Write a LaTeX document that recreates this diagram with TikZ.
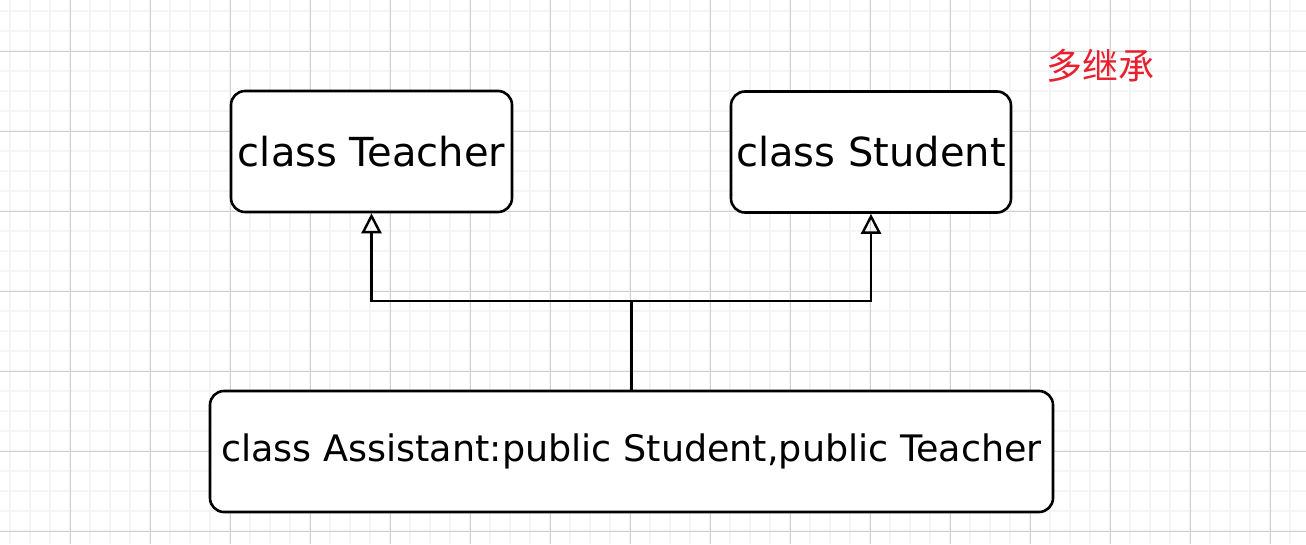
\documentclass[tikz,border=0pt]{standalone}
\usepackage{fontspec}
\setmainfont{DejaVu Sans}
\newfontfamily\cjk{Noto Sans CJK SC}
\usetikzlibrary{arrows.meta}
\definecolor{minorgrid}{HTML}{F4F4F4}
\definecolor{majorgrid}{HTML}{D0D0D0}
\definecolor{xred}{HTML}{E8202E}
\tikzset{
  classbox/.style={draw=black, line width=2.6pt, rounded corners=14pt, fill=white,
    inner sep=0pt},
  inh/.style={draw=black, line width=2.4pt, -{Triangle[open, length=20pt, width=20pt]}},
  link/.style={draw=black, line width=2.4pt},
}
\begin{document}
\begin{tikzpicture}[x=1pt,y=-1pt]
\useasboundingbox (0,0) rectangle (1306,544);
\fill[white] (0,0) rectangle (1306,544);
% minor grid
\foreach \i in {10,30,...,1310} \draw[minorgrid, line width=2pt] (\i,0) -- (\i,544);
\foreach \j in {11,31,...,544} \draw[minorgrid, line width=2pt] (0,\j) -- (1306,\j);
% major grid
\foreach \i in {70,150,...,1306} \draw[majorgrid, line width=1pt] (\i,0) -- (\i,544);
\foreach \j in {51,131,...,544} \draw[majorgrid, line width=1pt] (0,\j) -- (1306,\j);

\node[classbox, minimum width=281pt, minimum height=121pt, font=\fontsize{40}{46}\selectfont] (teacher) at (371.5,151.5) {class Teacher};
\node[classbox, minimum width=280pt, minimum height=121pt, font=\fontsize{40}{46}\selectfont] (student) at (871,152) {class Student};
\node[classbox, minimum width=843pt, minimum height=121pt, font=\fontsize{36.5}{42}\selectfont] (assist) at (631.5,451.5) {class Assistant:public Student,public Teacher};

\node[text=xred, font=\cjk\fontsize{36}{42}\selectfont, inner sep=0pt] (title) at (1100,66) {多继承};

\coordinate (j) at (631.5,301);
\draw[link] (assist.north) -- (j);
\draw[inh] (j) -| (teacher.south);
\draw[inh] (j) -| (student.south);
\end{tikzpicture}
\end{document}
